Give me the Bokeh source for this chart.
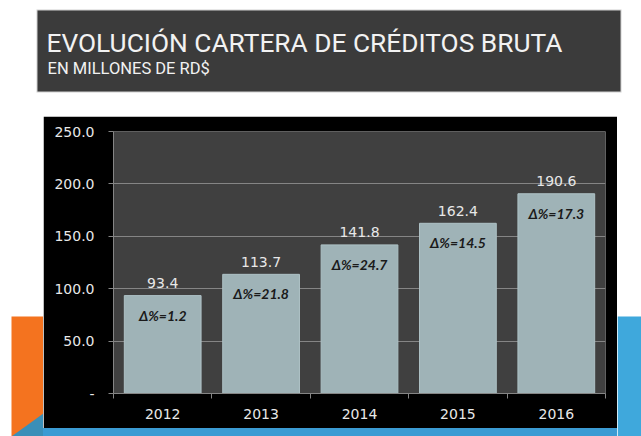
from bokeh.plotting import figure
from bokeh.layouts import column, row
from bokeh.models import Range1d, FixedTicker, NumeralTickFormatter, ColumnDataSource, Spacer
from bokeh.embed import file_html
from bokeh.resources import INLINE
from bokeh.core.properties import value

# ---- data ----
years = ["2012", "2013", "2014", "2015", "2016"]
cartera = [93.4, 113.7, 141.8, 162.4, 190.6]
variacion = [1.2, 21.8, 24.7, 14.5, 17.3]
y_ticks = [0, 50, 100, 150, 200, 250]

title_text = "EVOLUCIÓN CARTERA DE CRÉDITOS BRUTA"
subtitle_text = "EN MILLONES DE RD$"


def blank(w, h):
    f = figure(width=w, height=h, output_backend="svg", toolbar_location=None,
               x_range=Range1d(0, w), y_range=Range1d(h, 0),
               x_axis_type=None, y_axis_type=None, min_border=0)
    f.grid.visible = False
    f.outline_line_color = None
    f.border_fill_color = "white"
    f.background_fill_color = "white"
    return f


# ---- title band ----
tf = blank(641, 116)
tf.quad(left=36, right=621, top=9, bottom=92, fill_color="#d0d0d0", line_color=None)
tf.quad(left=37, right=620, top=10, bottom=91, fill_color="#3b3b3b", line_color=None)
tf.text(x=[46], y=[42], text=[title_text], text_color="#f2f2f2",
        text_font=value("Roboto"), text_font_size="26.3px",
        text_baseline="middle", text_align="left")
tf.text(x=[47], y=[67.5], text=[subtitle_text], text_color="#f2f2f2",
        text_font=value("Roboto"), text_font_size="16.5px",
        text_baseline="middle", text_align="left")

# ---- side decorations ----
lf = blank(43, 320)
lf.quad(left=11, right=43, top=200, bottom=320, fill_color="#f4731f", line_color=None)
lf.patch(x=[11, 43, 43], y=[320, 320, 297], fill_color="#3a8fb8", line_color=None)

rf = blank(24, 320)
rf.quad(left=0, right=24, top=200, bottom=320, fill_color="#3fa8dc", line_color=None)

bottom_strip = Spacer(width=574, height=8, styles={"background-color": "#3b9bd3"})

# ---- chart ----
xs = [i + 0.5 for i in range(len(years))]
src = ColumnDataSource(dict(
    x=xs, top=cartera,
    val=[f"{v:.1f}" for v in cartera],
    dlt=[f"Δ%={d}" for d in variacion],
))

p = figure(width=574, height=312, output_backend="svg", toolbar_location=None,
           x_range=Range1d(0, len(years)), y_range=Range1d(0, 250),
           min_border_left=70, min_border_right=12,
           min_border_top=15, min_border_bottom=35)
p.border_fill_color = "black"
p.background_fill_color = "#404040"
p.outline_line_color = None

p.xgrid.visible = False
p.ygrid.ticker = FixedTicker(ticks=y_ticks)
p.ygrid.grid_line_color = "#858585"
p.ygrid.grid_line_width = 1

p.vbar(x="x", top="top", width=0.78, source=src, fill_color="#9fb3b7",
       line_color="#aec2c6", line_width=1)

p.text(x="x", y="top", text="val", source=src, text_align="center",
       text_baseline="middle", y_offset=-12.5, text_color="#e8e8e8",
       text_font=value("DejaVu Sans"), text_font_size="14px")
p.text(x="x", y="top", text="dlt", source=src, text_align="center",
       text_baseline="middle", y_offset=19.5, text_color="#1a1a1a",
       text_font=value("Lato"), text_font_size="14px", text_font_style="bold italic")

ya = p.yaxis[0]
ya.ticker = FixedTicker(ticks=y_ticks)
ya.formatter = NumeralTickFormatter(format="0.0")
ya.major_label_overrides = {0: "-"}
ya.axis_line_color = "#858585"
ya.major_tick_line_color = "#858585"
ya.major_tick_out = 5
ya.major_tick_in = 0
ya.minor_tick_line_color = None
ya.major_label_standoff = 14
ya.major_label_text_color = "#e8e8e8"
ya.major_label_text_font = "DejaVu Sans"
ya.major_label_text_font_size = "14px"

xa = p.xaxis[0]
xa.ticker = FixedTicker(ticks=xs, minor_ticks=list(range(len(years) + 1)))
xa.major_label_overrides = {x: y for x, y in zip(xs, years)}
xa.axis_line_color = "#858585"
xa.major_tick_line_color = None
xa.major_tick_out = 0
xa.major_tick_in = 0
xa.minor_tick_line_color = "#858585"
xa.minor_tick_out = 5
xa.minor_tick_in = 0
xa.major_label_standoff = 10
xa.major_label_text_color = "#e8e8e8"
xa.major_label_text_font = "DejaVu Sans"
xa.major_label_text_font_size = "14px"

layout = column(tf, row(lf, column(p, bottom_strip, spacing=0), rf, spacing=0), spacing=0)

open("out.html", "w").write(file_html(layout, INLINE))
